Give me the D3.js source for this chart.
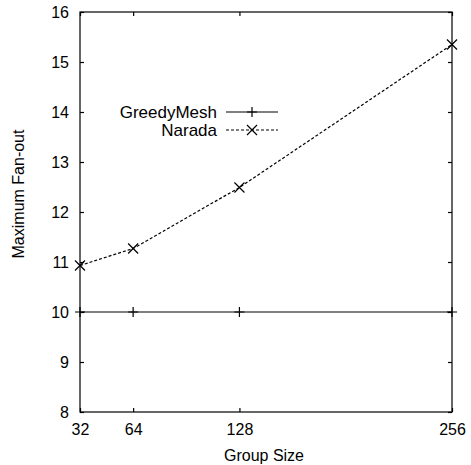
<!DOCTYPE html>
<html><head><meta charset="utf-8">
<script src="https://cdn.jsdelivr.net/npm/d3@7"></script>
<style>body{margin:0;background:#fff}svg{display:block}text{font-family:"Liberation Sans",Arial,Helvetica,sans-serif;fill:#000}</style>
</head><body>
<script>
const groupSizes = [32, 64, 128, 256];
const greedyMesh = [10, 10, 10, 10];
const narada = [10.93, 11.27, 12.49, 15.35];
const yTicks = [8, 9, 10, 11, 12, 13, 14, 15, 16];
const xTicks = [32, 64, 128, 256];
const seriesNames = ["GreedyMesh", "Narada"];

const W = 471, H = 465;
const m = {left: 80, right: 19, top: 12, bottom: 53};
const svg = d3.select("body").append("svg").attr("width", W).attr("height", H);
const x = d3.scaleLinear().domain([32, 256]).range([m.left, W - m.right]);
const y = d3.scaleLinear().domain([8, 16]).range([H - m.bottom, m.top]);
const fs = 16, tl = 4;

// frame
svg.append("rect").attr("x", x(32)).attr("y", y(16)).attr("width", x(256) - x(32)).attr("height", y(8) - y(16))
  .attr("fill", "none").attr("stroke", "#000").attr("stroke-width", 1.2);

// axes via d3 axis (inward ticks)
const ax = (gen, tx, ty) => {
  const g = svg.append("g").attr("transform", `translate(${tx},${ty})`).call(gen);
  g.select(".domain").remove();
  g.selectAll("line").attr("stroke", "#000").attr("stroke-width", 1.2);
  g.selectAll("text").style("font-size", fs + "px").attr("fill", "#000");
  return g;
};
ax(d3.axisBottom(x).tickValues(xTicks).tickSize(-tl).tickPadding(12).tickFormat(d3.format("d")), 0, y(8));
ax(d3.axisTop(x).tickValues(xTicks).tickSize(-tl).tickFormat(""), 0, y(16));
ax(d3.axisLeft(y).tickValues(yTicks).tickSize(-tl).tickPadding(11).tickFormat(d3.format("d")), x(32), 0);
ax(d3.axisRight(y).tickValues(yTicks).tickSize(-tl).tickFormat(""), x(256), 0);

// axis titles
svg.append("text").attr("x", 264).attr("y", 461).attr("text-anchor", "middle").style("font-size", fs + "px").text("Group Size");
svg.append("text").attr("transform", "translate(24,194) rotate(-90)").attr("text-anchor", "middle").style("font-size", fs + "px").text("Maximum Fan-out");

const plus = (g, cx, cy, s) => g.append("path").attr("d", `M${cx - s},${cy}H${cx + s}M${cx},${cy - s}V${cy + s}`).attr("stroke", "#000").attr("stroke-width", 1.2).attr("fill", "none");
const cross = (g, cx, cy, s) => g.append("path").attr("d", `M${cx - s},${cy - s}L${cx + s},${cy + s}M${cx - s},${cy + s}L${cx + s},${cy - s}`).attr("stroke", "#000").attr("stroke-width", 1.2).attr("fill", "none");

const line = d3.line().x(d => x(d[0])).y(d => y(d[1]));
const gm = svg.append("g");
gm.append("path").attr("d", line(groupSizes.map((g, i) => [g, greedyMesh[i]]))).attr("fill", "none").attr("stroke", "#000").attr("stroke-width", 1.2);
groupSizes.forEach((g, i) => plus(gm, x(g), y(greedyMesh[i]), 5));

const nr = svg.append("g");
nr.append("path").attr("d", line(groupSizes.map((g, i) => [g, narada[i]]))).attr("fill", "none").attr("stroke", "#000").attr("stroke-width", 1.2).attr("stroke-dasharray", "3,2");
groupSizes.forEach((g, i) => cross(nr, x(g), y(narada[i]), 5));

// legend
const lg = svg.append("g");
const ly = [112, 130];
seriesNames.forEach((n, i) => {
  lg.append("text").attr("x", 217).attr("y", ly[i]).attr("dy", "0.35em").attr("text-anchor", "end").style("font-size", "17px").text(n);
  lg.append("line").attr("x1", 226).attr("x2", 278).attr("y1", ly[i]).attr("y2", ly[i]).attr("stroke", "#000").attr("stroke-width", 1.2).attr("stroke-dasharray", i ? "3,2" : null);
  if (i === 0) plus(lg, 252, ly[i], 5); else cross(lg, 252, ly[i], 5);
});
</script>
</body></html>
